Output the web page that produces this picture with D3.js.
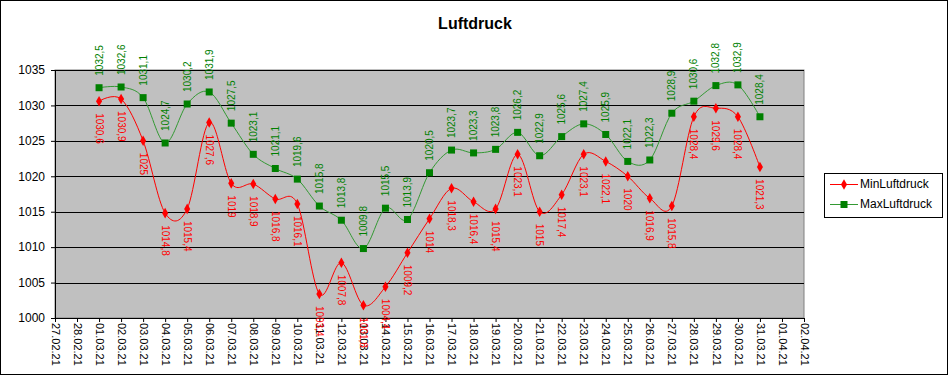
<!DOCTYPE html>
<html><head><meta charset="utf-8">
<script src="https://cdn.jsdelivr.net/npm/d3@7"></script>
<style>body{margin:0;background:#fff}svg{display:block;font-family:Arial,"Liberation Sans",sans-serif}</style>
</head><body><svg id="c" width="948" height="375"></svg>
<script>
const title = "Luftdruck";
const dates = ["01.03.21","02.03.21","03.03.21","04.03.21","05.03.21","06.03.21","07.03.21","08.03.21","09.03.21","10.03.21","11.03.21","12.03.21","13.03.21","14.03.21","15.03.21","16.03.21","17.03.21","18.03.21","19.03.21","20.03.21","21.03.21","22.03.21","23.03.21","24.03.21","25.03.21","26.03.21","27.03.21","28.03.21","29.03.21","30.03.21","31.03.21"];
const minValues = [1030.6,1030.9,1025,1014.8,1015.4,1027.6,1019,1018.9,1016.8,1016.1,1003.4,1007.8,1001.8,1004.4,1009.2,1014,1018.3,1016.4,1015.4,1023.1,1015,1017.4,1023.1,1022.1,1020,1016.9,1015.8,1028.4,1029.6,1028.4,1021.3];
const maxValues = [1032.5,1032.6,1031.1,1024.7,1030.2,1031.9,1027.5,1023.1,1021.1,1019.6,1015.8,1013.8,1009.8,1015.5,1013.9,1020.5,1023.7,1023.3,1023.8,1026.2,1022.9,1025.6,1027.4,1025.9,1022.1,1022.3,1028.9,1030.6,1032.8,1032.9,1028.4];
const seriesNames = ["MinLuftdruck","MaxLuftdruck"];
const yTicks = [1000,1005,1010,1015,1020,1025,1030,1035];
const xStart = "27.02.21", xEnd = "02.04.21";

const parse = d3.timeParse("%d.%m.%y");
const fmt = d3.timeFormat("%d.%m.%y");
const numFmt = v => String(v).replace(".", ",");

const svg = d3.select("#c");
const L = 55, R = 804, T = 70, B = 318;

svg.append("rect").attr("x",0.5).attr("y",0.5).attr("width",947).attr("height",374).attr("fill","#fff").attr("stroke","#000");

const x = d3.scaleTime().domain([parse(xStart), parse(xEnd)]).range([L, R]);
const y = d3.scaleLinear().domain([1000,1035]).range([B, T]);

svg.append("rect").attr("x",L).attr("y",T).attr("width",R-L).attr("height",B-T).attr("fill","#c0c0c0").attr("stroke","#808080");

svg.append("g").selectAll("line").data(yTicks.slice(1)).join("line")
  .attr("x1",L).attr("x2",R).attr("y1",d=>Math.round(y(d))+0.5).attr("y2",d=>Math.round(y(d))+0.5)
  .attr("stroke","#000");

const ya = svg.append("g").attr("transform",`translate(${L},0)`)
  .call(d3.axisLeft(y).tickValues(yTicks).tickSize(4).tickPadding(6).tickFormat(d3.format("d")));
ya.select(".domain").attr("stroke","#000");
ya.selectAll("text").attr("font-size",12).attr("fill","#000").attr("font-family","Arial");

const xTicks = d3.timeDay.range(parse(xStart), d3.timeDay.offset(parse(xEnd),1));
const xa = svg.append("g").attr("transform",`translate(0,${B})`)
  .call(d3.axisBottom(x).tickValues(xTicks).tickSize(4).tickFormat(fmt));
xa.select(".domain").attr("stroke","#000");
xa.selectAll("text").attr("font-size",11).attr("fill","#000").attr("font-family","Arial")
  .attr("transform","rotate(90)").attr("text-anchor","start").attr("dy","0.35em").attr("x",5).attr("y",0);

const pts = vals => vals.map((v,i)=>({d:parse(dates[i]), v}));
const line = d3.line().x(p=>x(p.d)).y(p=>y(p.v)).curve(d3.curveCardinal.tension(0));

const minPts = pts(minValues), maxPts = pts(maxValues);

svg.append("path").datum(maxPts).attr("d",line).attr("fill","none").attr("stroke","#339933").attr("stroke-width",1);
svg.append("g").selectAll("rect").data(maxPts).join("rect")
  .attr("x",p=>x(p.d)-3.5).attr("y",p=>y(p.v)-3.5).attr("width",7).attr("height",7).attr("fill","#008000");
svg.append("path").datum(minPts).attr("d",line).attr("fill","none").attr("stroke","#ff0000").attr("stroke-width",1);
const diamond = d3.symbol().type(d3.symbolDiamond).size(32);
svg.append("g").selectAll("path").data(minPts).join("path")
  .attr("d",diamond).attr("transform",p=>`translate(${x(p.d)},${y(p.v)})`).attr("fill","#ff0000");

svg.append("g").selectAll("text").data(maxPts).join("text")
  .attr("transform",p=>`translate(${x(p.d)},${y(p.v)-12}) rotate(-90)`)
  .attr("dy","0.35em").attr("text-anchor","start").attr("font-size",10).attr("fill","#008000")
  .text(p=>numFmt(p.v));
svg.append("g").selectAll("text").data(minPts).join("text")
  .attr("transform",p=>`translate(${x(p.d)},${y(p.v)+12}) rotate(90)`)
  .attr("dy","0.35em").attr("text-anchor","start").attr("font-size",10).attr("fill","#ff0000")
  .text(p=>numFmt(p.v));

svg.append("text").attr("x",475).attr("y",29).attr("text-anchor","middle").attr("font-size",16).attr("font-weight","bold").text(title);

const lg = svg.append("g");
lg.append("rect").attr("x",824.5).attr("y",173.5).attr("width",118).attr("height",44).attr("fill","#fff").attr("stroke","#000");
const cols = ["#ff0000","#008000"];
const lineCols = ["#ff0000","#339933"];
seriesNames.forEach((n,i)=>{
  const yy = 184 + i*20;
  lg.append("line").attr("x1",830).attr("x2",858).attr("y1",yy+0.5).attr("y2",yy+0.5).attr("stroke",lineCols[i]);
  if(i===0) lg.append("path").attr("d",diamond).attr("transform",`translate(844,${yy+0.5})`).attr("fill",cols[i]);
  else lg.append("rect").attr("x",840.5).attr("y",yy-3).attr("width",7).attr("height",7).attr("fill",cols[i]);
  lg.append("text").attr("x",860).attr("y",yy).attr("dy","0.35em").attr("font-size",12).text(n);
});
</script></body></html>
